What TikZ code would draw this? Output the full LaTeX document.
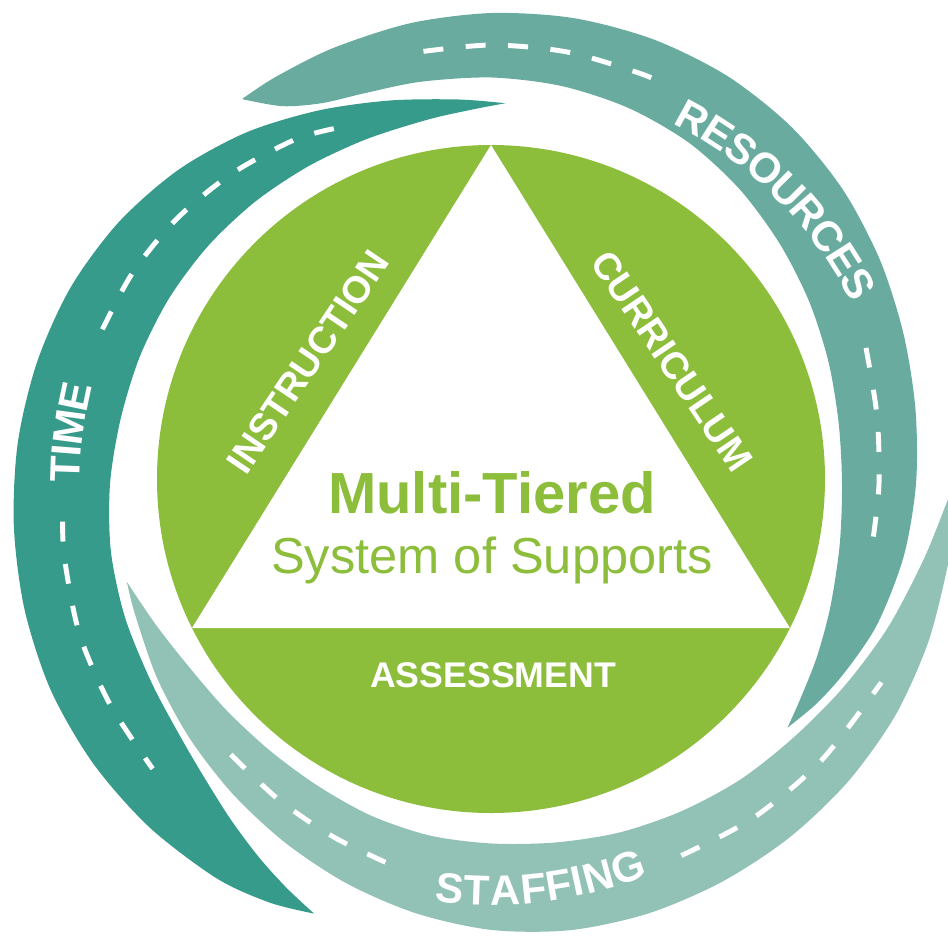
\documentclass[tikz,border=0pt]{standalone}
\usepackage{fontspec}
\setmainfont{Liberation Sans}
\usepackage{tikz}
\usetikzlibrary{decorations.text}
\definecolor{mtgreen}{HTML}{8CBD3B}
\definecolor{timeteal}{HTML}{379B8C}
\definecolor{resteal}{HTML}{69AC9F}
\definecolor{staffteal}{HTML}{92C1B5}

\begin{document}
\begin{tikzpicture}[
    x=0.02cm,y=0.02cm,
    tier/.style={text=white,inner sep=0pt,font=\fontsize{21.5}{24}\selectfont\bfseries},
    lane/.style={white,line width=2.8pt,dash pattern=on 0.4cm off 0.45cm},
    roadname/.style={decorate,decoration={text along path,text align=center,text color=white,raise=-8.6pt,text={|\fontsize{24}{26}\selectfont\bfseries|#1}}}
  ]
  \useasboundingbox (0,0) rectangle (948,-938);
  \clip (0,0) rectangle (948,-938);
  \begin{scope}[shift={(492,-484)}]
    \fill[timeteal] plot[smooth] coordinates {(88:381) (95:386) (105:397) (115:412) (125:429) (135:444) (145:456) (155:465) (165:471) (175:476) (185:480) (195:484) (205:487) (215:487) (225:485) (235:481) (242:474) (247.5:465)}
      -- plot[smooth] coordinates {(247.5:465) (243:453) (238:440) (232:425) (225:410) (218:400) (210:394) (200:390.5) (190:387) (180:382) (170:377) (160:374.5) (150:372.5) (140:370.5) (130:368.5) (120:367) (110:367) (100:370) (93:375) (88:381)} -- cycle;
    \fill[resteal] plot[smooth] coordinates {(123:459) (118:461) (110:464) (100:468) (90:471) (80:473) (70:473) (60:471) (50:466) (40:458) (30:448) (20:438) (10:430) (0:424) (-10:418) (-20:410) (-28:400) (-34:392) (-39.5:383)}
      -- plot[smooth] coordinates {(-39.5:383) (-35:376) (-28:368) (-20:360) (-10:353) (0:350) (10:352) (20:358) (30:366) (40:375) (50:385) (60:394) (70:400) (80:404) (90:406.5) (100:408.5) (108:411) (114:417) (119:432) (123:459)} -- cycle;
    \fill[staffteal] plot[smooth] coordinates {(195:378) (200:380) (210:387) (220:395) (230:404) (240:414) (250:425) (260:436) (270:446) (280:453) (290:457) (300:459.5) (310:462) (320:464) (330:465) (340:464) (350:463) (357:465) (362:468)}
      -- plot[smooth] coordinates {(362:468) (358:456) (350:438) (340:421) (330:406) (320:394) (310:386) (300:378) (290:371) (280:364) (270:359.5) (260:357) (250:353) (240:348.5) (230:347) (220:349) (210:355) (203:364) (198:372) (195:378)} -- cycle;

    \draw[lane] plot[smooth] coordinates {(114:389) (120:397) (130:405) (140:412) (150:417) (161:421)};
    \draw[lane] plot[smooth] coordinates {(185:431) (190:434) (200:439) (210:441) (220:443)};
    \draw[lane] plot[smooth] coordinates {(99:438) (90:439) (80:438.5) (70:436.5) (66:435)};
    \draw[lane] plot[smooth] coordinates {(20:398) (10:391) (0:387) (-8:385)};
    \draw[lane] plot[smooth] coordinates {(226:376) (236:381) (246:387) (256:395)};
    \draw[lane] plot[smooth] coordinates {(297:417) (308:424) (320:430) (333:437)};

    \path[roadname=TIME] (190:427) arc[start angle=190,end angle=156,radius=427];
    \path[roadname=RESOURCES] (70:418) arc[start angle=70,end angle=20,radius=418];
    \path[roadname=STAFFING] (252:406) arc[start angle=252,end angle=302,radius=406];
  \end{scope}

  \fill[mtgreen] (491,-479) circle[radius=334];
  \fill[white] (491,-145) -- (192,-628) -- (790,-628) -- cycle;

  \node[tier,rotate=56] (instr) at (308,-362) {INSTRUCTION};
  \node[tier,rotate=-56] (curric) at (672,-361) {CURRICULUM};
  \node[tier,anchor=base,font=\fontsize{20.3}{24}\selectfont\bfseries] (assess) at (493,-687) {ASSESSMENT};
  \node[anchor=base,inner sep=0pt,text=mtgreen,font=\fontsize{33}{36}\selectfont\bfseries] (mtss) at (492,-513) {Multi-Tiered};
  \node[anchor=base,inner sep=0pt,text=mtgreen,font=\fontsize{28.8}{32}\selectfont] (sys) at (492,-573) {System of Supports};
\end{tikzpicture}
\end{document}
